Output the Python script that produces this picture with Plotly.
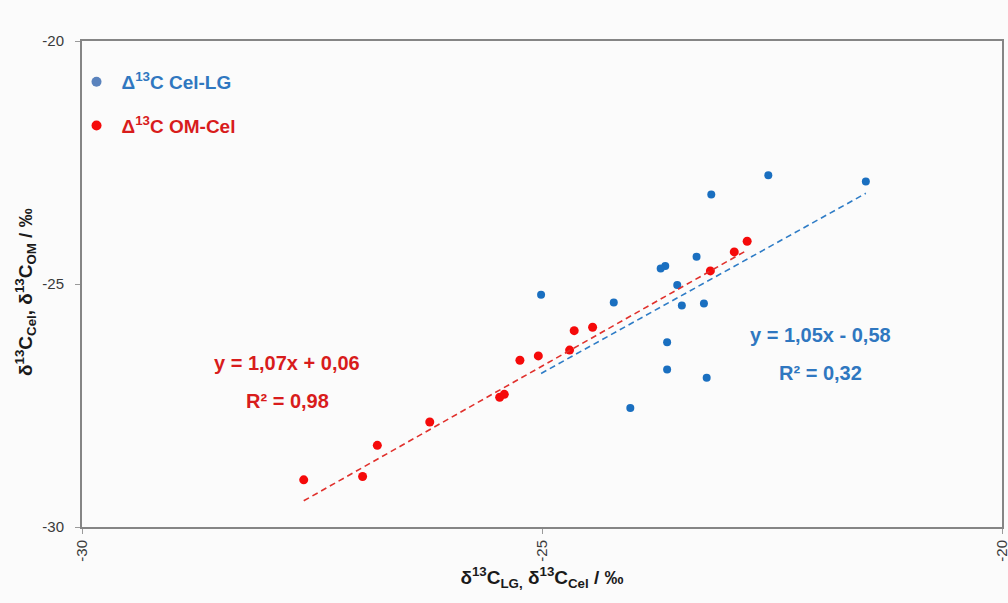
import numpy as np
import plotly.graph_objects as go

# Δ13C Cel-LG series (x = δ13C LG, y = δ13C Cel)
blue_x = [-21.48, -22.54, -23.16, -23.32, -23.66, -23.71, -23.53, -25.01,
          -24.22, -23.48, -23.24, -23.64, -23.64, -23.21, -24.04]
blue_y = [-22.89, -22.76, -23.16, -24.44, -24.63, -24.68, -25.02, -25.22,
          -25.38, -25.44, -25.40, -26.20, -26.76, -26.93, -27.55]

# Δ13C OM-Cel series (x = δ13C Cel, y = δ13C OM)
red_x = [-27.59, -26.95, -26.79, -26.22, -25.46, -25.41, -25.24, -25.04,
         -24.70, -24.65, -24.45, -23.17, -22.91, -22.77]
red_y = [-29.03, -28.96, -28.32, -27.84, -27.33, -27.27, -26.57, -26.48,
         -26.36, -25.96, -25.89, -24.73, -24.34, -24.12]

# linear trend coefficients shown on the chart
blue_fit = [1.05, -0.58]
red_fit = [1.07, 0.06]

series_names = ["Δ<sup>13</sup>C Cel-LG", "Δ<sup>13</sup>C OM-Cel"]
eq_texts = ["y = 1,05x - 0,58", "R² = 0,32", "y = 1,07x + 0,06", "R² = 0,98"]
axis_ticks = [-30, -25, -20]

BLUE_PT = "#1a6fc0"
BLUE_LEG = "#5a83bd"
BLUE_TXT = "#2f77c0"
RED_PT = "#f50a0a"
RED_TXT = "#d81c1c"
FONT = "Liberation Sans, Arial, sans-serif"

fig = go.Figure()

# data markers
fig.add_trace(go.Scatter(x=blue_x, y=blue_y, mode="markers",
                         marker=dict(color=BLUE_PT, size=8),
                         showlegend=False, hoverinfo="x+y"))
fig.add_trace(go.Scatter(x=red_x, y=red_y, mode="markers",
                         marker=dict(color=RED_PT, size=9),
                         showlegend=False, hoverinfo="x+y"))

# trend lines over the x-range of each series
bx = np.array([min(blue_x), max(blue_x)])
rx = np.array([min(red_x), max(red_x)])
fig.add_trace(go.Scatter(x=bx, y=blue_fit[0] * bx + blue_fit[1], mode="lines",
                         line=dict(color="#2e7cc6", width=1.6, dash="6px,4px"),
                         showlegend=False, hoverinfo="skip"))
fig.add_trace(go.Scatter(x=rx, y=red_fit[0] * rx + red_fit[1], mode="lines",
                         line=dict(color="#e0302c", width=1.6, dash="6px,4px"),
                         showlegend=False, hoverinfo="skip"))

# legend entries
fig.add_trace(go.Scatter(x=[None], y=[None], mode="markers",
                         marker=dict(color=BLUE_LEG, size=10),
                         name=f"<b><span style='color:{BLUE_TXT}'>{series_names[0]}</span></b>",
                         legendgroup="a"))
fig.add_trace(go.Scatter(x=[None], y=[None], mode="markers",
                         marker=dict(color=RED_PT, size=10),
                         name=f"<b><span style='color:{RED_TXT}'>{series_names[1]}</span></b>",
                         legendgroup="b"))

ann_font_b = dict(family=FONT, size=20, color=BLUE_TXT)
ann_font_r = dict(family=FONT, size=20, color=RED_TXT)
annotations = [
    dict(x=-21.97, y=-26.05, text=f"<b>{eq_texts[0]}</b>", font=ann_font_b),
    dict(x=-21.97, y=-26.83, text=f"<b>{eq_texts[1]}</b>", font=ann_font_b),
    dict(x=-27.77, y=-26.63, text=f"<b>{eq_texts[2]}</b>", font=ann_font_r),
    dict(x=-27.77, y=-27.41, text=f"<b>{eq_texts[3]}</b>", font=ann_font_r),
]
for a in annotations:
    a.update(xref="x", yref="y", showarrow=False, xanchor="center", yanchor="middle")

# y-axis title as a rotated annotation for precise placement
annotations.append(dict(
    xref="paper", yref="paper", x=-0.062, y=0.4835, textangle=-90,
    showarrow=False, xanchor="center", yanchor="middle",
    text="<b>δ<sup>13</sup>C<sub>Cel</sub>, δ<sup>13</sup>C<sub>OM</sub> / ‰</b>",
    font=dict(family=FONT, size=19, color="#1a1a1a")))

axis_common = dict(
    range=[-30, -20], tickvals=axis_ticks, ticktext=[str(t) for t in axis_ticks],
    showgrid=False, zeroline=False, showline=True, linecolor="#858585",
    linewidth=2, mirror=True, ticks="outside", ticklen=5, tickcolor="#9a9a9a",
    tickwidth=1, tickfont=dict(family=FONT, size=15, color="#3a3a3a"),
    automargin=False, ticklabeloverflow="allow",
)

fig.update_layout(
    width=1008, height=603,
    margin=dict(l=82, r=6, t=41, b=76),
    paper_bgcolor="#fbfbfb", plot_bgcolor="#fbfbfb",
    font=dict(family=FONT),
    xaxis=dict(**axis_common, tickangle=-90,
               title=dict(text="<b>δ<sup>13</sup>C<sub>LG,</sub> δ<sup>13</sup>C<sub>Cel</sub> / ‰</b>",
                          font=dict(family=FONT, size=19, color="#1a1a1a"),
                          standoff=10)),
    yaxis=dict(**axis_common, ticklabelstandoff=8),
    legend=dict(x=-0.0114, y=0.955, xanchor="left", yanchor="top",
                bgcolor="rgba(0,0,0,0)", tracegroupgap=16, itemwidth=40,
                font=dict(family=FONT, size=19),
                itemclick=False),
    annotations=annotations,
)

fig.write_html("out.html")
